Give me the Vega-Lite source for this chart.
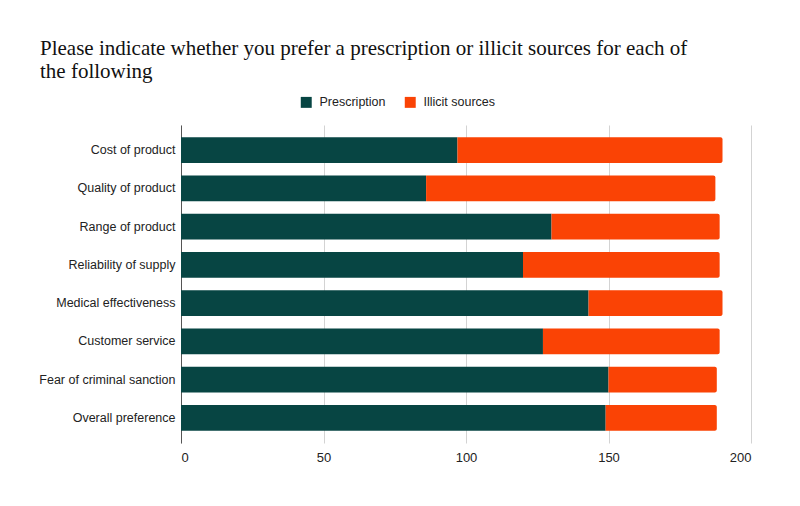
{
  "$schema": "https://vega.github.io/schema/vega-lite/v6.json",
  "width": 570,
  "height": 318,
  "autosize": {"type": "none"},
  "padding": {"left": 181, "top": 125, "right": 49, "bottom": 63},
  "background": "white",
  "title": {
    "text": ["Please indicate whether you prefer a prescription or illicit sources for each of", "the following"],
    "anchor": "start",
    "frame": "group",
    "dx": -141,
    "offset": 14,
    "font": "Liberation Serif",
    "fontSize": 21,
    "fontWeight": "normal",
    "color": "#111111",
    "lineHeight": 23
  },
  "data": {
    "values": [
      {"category": "Cost of product", "source": "Prescription", "value": 97},
      {"category": "Cost of product", "source": "Illicit sources", "value": 93},
      {"category": "Quality of product", "source": "Prescription", "value": 86},
      {"category": "Quality of product", "source": "Illicit sources", "value": 101.5},
      {"category": "Range of product", "source": "Prescription", "value": 130},
      {"category": "Range of product", "source": "Illicit sources", "value": 59},
      {"category": "Reliability of supply", "source": "Prescription", "value": 120},
      {"category": "Reliability of supply", "source": "Illicit sources", "value": 69},
      {"category": "Medical effectiveness", "source": "Prescription", "value": 143},
      {"category": "Medical effectiveness", "source": "Illicit sources", "value": 47},
      {"category": "Customer service", "source": "Prescription", "value": 127},
      {"category": "Customer service", "source": "Illicit sources", "value": 62},
      {"category": "Fear of criminal sanction", "source": "Prescription", "value": 150},
      {"category": "Fear of criminal sanction", "source": "Illicit sources", "value": 38},
      {"category": "Overall preference", "source": "Prescription", "value": 149},
      {"category": "Overall preference", "source": "Illicit sources", "value": 39}
    ]
  },
  "transform": [
    {"stack": "value", "groupby": ["category"], "sort": [{"field": "source", "order": "descending"}], "as": ["x0", "x1"]}
  ],
  "encoding": {
    "y": {
      "field": "category",
      "type": "nominal",
      "sort": null,
      "scale": {"paddingInner": 0.33, "paddingOuter": 0.32},
      "axis": {
        "title": null,
        "domain": true,
        "domainColor": "#555555",
        "domainWidth": 1,
        "ticks": false,
        "grid": false,
        "labelFont": "Liberation Sans",
        "labelFontSize": 12.5,
        "labelColor": "#222222",
        "labelPadding": 6
      }
    },
    "x": {
      "field": "x0",
      "type": "quantitative",
      "scale": {"domain": [0, 200], "nice": false},
      "axis": {
        "title": null,
        "values": [0, 50, 100, 150, 200],
        "domain": false,
        "ticks": false,
        "grid": true,
        "gridColor": "#d3d3d3",
        "labelFont": "Liberation Sans",
        "labelFontSize": 13,
        "labelColor": "#222222",
        "labelPadding": 8
      }
    },
    "x2": {"field": "x1"},
    "color": {
      "field": "source",
      "type": "nominal",
      "scale": {"domain": ["Prescription", "Illicit sources"], "range": ["#074543", "#fa4305"]},
      "legend": {
        "title": null,
        "orient": "none",
        "legendX": 119,
        "legendY": -29,
        "direction": "horizontal",
        "symbolType": "square",
        "symbolSize": 120,
        "symbolStrokeWidth": 0,
        "labelFont": "Liberation Sans",
        "labelFontSize": 12.5,
        "labelColor": "#222222",
        "labelOffset": 7,
        "columnPadding": 18
      }
    }
  },
  "layer": [
    {
      "transform": [{"filter": "datum.source === 'Prescription'"}],
      "mark": {"type": "bar"}
    },
    {
      "transform": [{"filter": "datum.source === 'Illicit sources'"}],
      "mark": {"type": "bar", "cornerRadiusTopRight": 2, "cornerRadiusBottomRight": 2}
    }
  ],
  "config": {"view": {"stroke": null}}
}
